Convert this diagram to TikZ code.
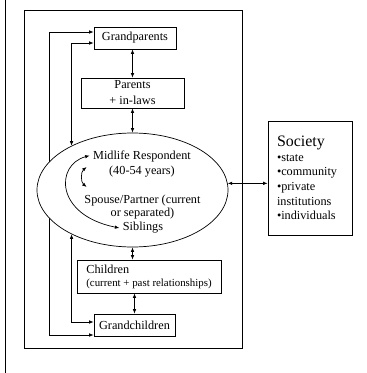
\documentclass[tikz,border=0pt]{standalone}
\usepackage{fontspec}
\setmainfont{Liberation Serif}
\usetikzlibrary{arrows.meta,positioning,shapes.geometric,backgrounds}

\begin{document}
\begin{tikzpicture}[
    x=1bp, y=-1bp,
    font=\fontsize{12.3}{14.6}\selectfont,
    >={Latex[length=4.5bp,width=3.5bp]},
    box/.style={draw, line width=0.7bp, inner sep=0pt, align=center},
    link/.style={line width=0.7bp, <->}
  ]
    \useasboundingbox (0,0) rectangle (367,373);
    \draw[line width=1.6bp] (5.5,0) -- (5.5,373);

    \node[box, minimum width=218bp, minimum height=338bp] (family) at (133,179) {};
    \node[box, minimum width=82bp, minimum height=22bp] (gp) at (135,38) {Grandparents};
    \node[box, minimum width=103bp, minimum height=30bp] (par) at (132.5,93) {Parents\\[1.5pt]+ in-laws};
    \node[box, ellipse, fill=white, minimum width=191bp, minimum height=114bp] (ell) at (132.5,190) {};
    \node[box, align=left, minimum width=144bp, minimum height=33bp] (chi) at (149,276.5)
      {Children\\[-1.5pt]{\fontsize{10.9}{13}\selectfont (current + past relationships)}};
    \node[box, minimum width=81bp, minimum height=22bp] (gch) at (134.5,325) {Grandchildren};
    \node[box, align=left, text width=66bp, inner xsep=9bp, minimum height=114bp] (soc) at (310,178)
      {{\fontsize{16}{18}\selectfont Society}\\ \textbullet state\\ \textbullet community\\ \textbullet private\\ institutions\\ \textbullet individuals};

    % inside the ellipse
    \node[align=center] (mid) at (142,164) {Midlife Respondent\\(40-54 years)};
    \node[align=center] (sp) at (142.5,207) {Spouse/Partner (current\\[-1pt]or separated)};
    \node (sib) at (143,228) {Siblings};

    \draw[link] ([yshift=-8bp]mid.north west) .. controls (55,165) and (55,215) .. (sib.west);
    \draw[link] ([shift={(-3,3)}]mid.west) to[bend right=50] ++(0,20);

    \draw[link] (par.north) -- (par.north |- gp.south);
    \draw[link] (par.south) -- (ell.north);
    \draw[link] (ell.south) -- (ell.south |- chi.north);
    \draw[link] (gch.north) -- (gch.north |- chi.south);
    \draw[link] (ell.4) -- (ell.4 -| soc.west);
    \draw[link] ([yshift=-5bp]gp.west) -| (ell.144);
    \draw[link] (ell.216) |- ([yshift=3bp]gch.west);
    \begin{scope}[on background layer]
      \draw[link] ([yshift=6bp]gp.west) -- ++(-44,0) |- ([yshift=-10bp]gch.west);
    \end{scope}
  \end{tikzpicture}
\end{document}
